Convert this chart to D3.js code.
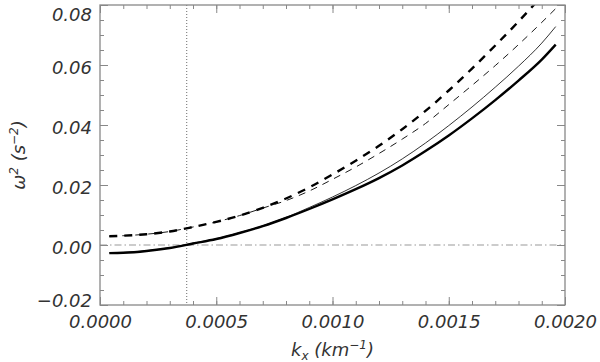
<!DOCTYPE html>
<html>
<head>
<meta charset="utf-8">
<script src="https://cdn.jsdelivr.net/npm/d3@7"></script>
<style>
body { margin: 0; background: #fff; }
svg { display: block; }
text { font-family: "DejaVu Sans", sans-serif; font-style: italic; font-size: 18px; fill: #333; }
</style>
</head>
<body>
<svg width="600" height="362"></svg>
<script>
// wavenumber samples (km^-1)
var kx = [0.00004, 0.0001, 0.0002, 0.0003, 0.0004, 0.0005, 0.0006, 0.0007, 0.0008, 0.0009, 0.0010,
          0.0011, 0.0012, 0.0013, 0.0014, 0.0015, 0.0016, 0.0017, 0.0018, 0.0019, 0.00196];

// omega^2 (s^-2) for the four curves
var thickSolid  = [-0.0027, -0.0026, -0.0020, -0.0010, 0.0005, 0.0020, 0.0040, 0.0063, 0.0090, 0.0120, 0.0152,
                   0.0186, 0.0223, 0.0265, 0.0313, 0.0365, 0.0422, 0.0483, 0.0548, 0.0618, 0.0668];
var thinSolid   = [-0.0026, -0.0025, -0.0019, -0.0009, 0.0006, 0.0021, 0.0041, 0.0064, 0.0092, 0.0125, 0.0160,
                   0.0198, 0.0240, 0.0287, 0.0340, 0.0398, 0.0460, 0.0526, 0.0596, 0.0673, 0.0728];
var thickDashed = [0.0029, 0.0031, 0.0036, 0.0045, 0.0060, 0.0077, 0.0098, 0.0124, 0.0155, 0.0192, 0.0235,
                   0.0281, 0.0331, 0.0386, 0.0447, 0.0515, 0.0588, 0.0665, 0.0745, 0.0830, 0.0885];
var thinDashed  = [0.0029, 0.0031, 0.0036, 0.0045, 0.0060, 0.0077, 0.0098, 0.0123, 0.0148, 0.0180, 0.0219,
                   0.0260, 0.0305, 0.0353, 0.0405, 0.0468, 0.0532, 0.0598, 0.0668, 0.0742, 0.0788];

var xTicks = [0, 0.0005, 0.0010, 0.0015, 0.0020];
var yTicks = [-0.02, 0.00, 0.02, 0.04, 0.06, 0.08];
var kCut = 0.000373;

var svg = d3.select("svg");
var margin = {left: 100, right: 35, top: 5, bottom: 57};
var width = 600 - margin.left - margin.right;
var height = 362 - margin.top - margin.bottom;

var g = svg.append("g").attr("transform", "translate(" + margin.left + "," + margin.top + ")");

var x = d3.scaleLinear().domain([0, 0.002]).range([0, width]);
var y = d3.scaleLinear().domain([-0.02, 0.08]).range([height, 0]);

g.append("clipPath").attr("id", "clip")
  .append("rect").attr("width", width).attr("height", height);

// reference lines
g.append("line")
  .attr("x1", 0).attr("x2", width).attr("y1", y(0)).attr("y2", y(0))
  .style("stroke", "#999").style("stroke-width", 1).style("stroke-dasharray", "7,3,1.5,3");
g.append("line")
  .attr("x1", x(kCut)).attr("x2", x(kCut)).attr("y1", 0).attr("y2", height)
  .style("stroke", "#444").style("stroke-width", 0.8).style("stroke-dasharray", "1,2");

var line = d3.line().curve(d3.curveMonotoneX);
function draw(vals, w, dash) {
  var pts = kx.map(function(k, i) { return [x(k), y(vals[i])]; });
  g.append("path").attr("clip-path", "url(#clip)")
    .attr("d", line(pts))
    .style("fill", "none").style("stroke", "#000").style("stroke-width", w)
    .style("stroke-dasharray", dash);
}
draw(thinSolid, 0.8, null);
draw(thinDashed, 0.9, "7,6");
draw(thickSolid, 2.4, null);
draw(thickDashed, 2.4, "8,7");

// axes: ticks point inward on all four sides
var xMinor = d3.range(0, 0.00201, 0.0001);
var yMinor = d3.range(-0.02, 0.0801, 0.005);
var axisColor = "#888";

function styleAxis(sel) {
  sel.select(".domain").remove();
  sel.selectAll("line").style("stroke", axisColor);
}

g.append("g").attr("transform", "translate(0," + height + ")")
  .call(d3.axisBottom(x).tickValues(xMinor).tickSize(-4).tickFormat(""))
  .call(styleAxis);
g.append("g").attr("transform", "translate(0," + height + ")")
  .call(d3.axisBottom(x).tickValues(xTicks).tickSize(-8).tickFormat(d3.format(".4f")))
  .call(styleAxis)
  .call(function(s) { s.selectAll("text").attr("y", 23).attr("dy", null).attr("font-size", null); });
g.append("g")
  .call(d3.axisTop(x).tickValues(xMinor).tickSize(-4).tickFormat(""))
  .call(styleAxis);
g.append("g")
  .call(d3.axisTop(x).tickValues(xTicks).tickSize(-8).tickFormat(""))
  .call(styleAxis);

g.append("g")
  .call(d3.axisLeft(y).tickValues(yMinor).tickSize(-4).tickFormat(""))
  .call(styleAxis);
g.append("g")
  .call(d3.axisLeft(y).tickValues(yTicks).tickSize(-8).tickFormat(d3.format(".2f")))
  .call(styleAxis)
  .call(function(s) {
    s.selectAll("text").attr("x", -8).attr("font-size", null)
      .attr("dy", function(d) { return d === 0.08 ? "0.85em" : (d === -0.02 ? "0.1em" : "0.45em"); });
  });
g.append("g").attr("transform", "translate(" + width + ",0)")
  .call(d3.axisRight(y).tickValues(yMinor).tickSize(-4).tickFormat(""))
  .call(styleAxis);
g.append("g").attr("transform", "translate(" + width + ",0)")
  .call(d3.axisRight(y).tickValues(yTicks).tickSize(-8).tickFormat(""))
  .call(styleAxis);

svg.selectAll(".tick text").style("font-family", "DejaVu Sans").style("font-style", "italic")
  .style("font-size", "18px").style("fill", "#333");

// frame
g.append("rect").attr("width", width).attr("height", height)
  .style("fill", "none").style("stroke", axisColor).style("stroke-width", 1.3);

// axis titles
var xt = svg.append("text").attr("x", margin.left + width / 2).attr("y", 356).attr("text-anchor", "middle");
xt.append("tspan").text("k");
xt.append("tspan").attr("dy", 4).attr("font-size", 12).text("x");
xt.append("tspan").attr("dy", -4).text(" (km");
xt.append("tspan").attr("dy", -7).attr("font-size", 12).text("\u22121");
xt.append("tspan").attr("dy", 7).text(")");

var yt = svg.append("text").attr("transform", "translate(25," + (margin.top + height / 2) + ") rotate(-90)")
  .attr("text-anchor", "middle");
yt.append("tspan").text("\u03c9");
yt.append("tspan").attr("dy", -7).attr("font-size", 12).text("2");
yt.append("tspan").attr("dy", 7).text(" (s");
yt.append("tspan").attr("dy", -7).attr("font-size", 12).text("\u22122");
yt.append("tspan").attr("dy", 7).text(")");
</script>
</body>
</html>
